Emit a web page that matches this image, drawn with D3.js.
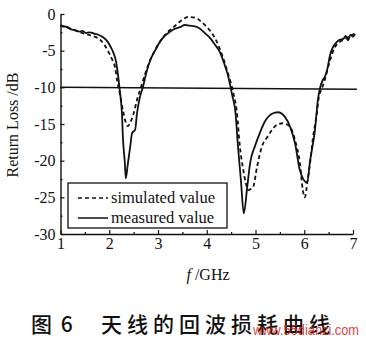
<!DOCTYPE html>
<html>
<head>
<meta charset="utf-8">
<script src="https://cdn.jsdelivr.net/npm/d3@7"></script>
<style>
  html, body { margin: 0; padding: 0; background: #ffffff; }
  svg { display: block; }
  .serif { font-family: "Liberation Serif", "Times New Roman", serif; }
</style>
</head>
<body>
<svg id="chart" width="366" height="342"></svg>
<script>
// Frequency (GHz) and return loss (dB) of the antenna, simulated and measured
const simFreq = [1.00, 1.20, 1.40, 1.61, 1.81, 1.90, 1.97, 2.06, 2.12, 2.16, 2.22, 2.28, 2.33, 2.38, 2.43, 2.49, 2.57, 2.63, 2.73, 2.84,
                 3.00, 3.14, 3.35, 3.50, 3.62, 3.76, 3.86, 3.96, 4.07, 4.17, 4.31, 4.44, 4.54, 4.62, 4.68, 4.74, 4.80, 4.85, 4.95,
                 5.03, 5.13, 5.24, 5.34, 5.44, 5.56, 5.71, 5.81, 5.91, 5.97, 6.01, 6.07, 6.12, 6.18, 6.26, 6.30, 6.36, 6.42, 6.53,
                 6.63, 6.73, 6.84, 6.94, 7.03];
const simDB   = [-1.6, -2.0, -2.5, -2.9, -3.5, -4.2, -5.0, -6.2, -7.3, -9.0, -11.0, -13.1, -14.6, -15.3, -14.8, -13.8, -11.7, -10.4, -8.3, -6.3,
                 -4.2, -2.9, -1.6, -0.8, -0.4, -0.5, -0.9, -1.5, -2.3, -3.3, -5.5, -8.2, -10.6, -13.5, -18.1, -20.9, -23.0, -24.0, -23.6,
                 -20.9, -18.1, -16.8, -15.8, -15.1, -14.9, -15.4, -17.2, -20.3, -24.0, -25.0, -22.6, -20.3, -16.8, -13.5, -11.3, -10.2, -9.0, -6.3,
                 -4.5, -3.8, -3.4, -3.0, -2.7];

const measFreq = [1.00, 1.08, 1.15, 1.22, 1.30, 1.38, 1.45, 1.52, 1.60, 1.70, 1.80, 1.90, 1.97, 2.03, 2.08, 2.14, 2.18, 2.21, 2.24, 2.26,
                  2.28, 2.32, 2.34, 2.38, 2.43, 2.47, 2.53, 2.57, 2.63, 2.69, 2.76, 2.84, 2.94, 3.04, 3.15, 3.25, 3.35, 3.45, 3.55,
                  3.65, 3.76, 3.86, 3.96, 4.07, 4.17, 4.27, 4.37, 4.44, 4.48, 4.52, 4.59, 4.64, 4.70, 4.76, 4.83, 4.89, 4.99, 5.09,
                  5.19, 5.34, 5.46, 5.60, 5.71, 5.81, 5.91, 6.06, 6.12, 6.22, 6.28, 6.32, 6.38, 6.42, 6.47, 6.53, 6.59, 6.67, 6.73,
                  6.80, 6.85, 6.90, 6.95, 7.00, 7.04];
const measDB   = [-1.5, -1.7, -1.8, -2.1, -2.2, -2.4, -2.3, -2.6, -2.5, -2.7, -2.9, -3.3, -3.8, -4.5, -5.2, -6.5, -8.3, -10.1, -11.8, -13.5,
                  -16.8, -20.3, -22.4, -20.5, -18.1, -16.2, -15.8, -13.5, -11.3, -10.0, -8.0, -6.3, -5.0, -3.8, -2.9, -2.4, -2.0, -1.8, -1.5,
                  -1.6, -1.7, -2.0, -2.6, -3.3, -4.2, -5.2, -7.0, -8.5, -9.7, -11.0, -13.5, -18.0, -22.6, -27.2, -23.6, -20.3, -18.0, -16.2,
                  -14.7, -13.6, -13.4, -14.0, -15.4, -17.6, -21.3, -23.0, -20.0, -15.8, -11.7, -10.2, -9.0, -8.6, -7.6, -5.6, -4.5, -3.8, -3.5,
                  -3.4, -3.0, -3.6, -2.8, -3.1, -2.7];

// -10 dB reference line, start and end
const refFreq = [1.0, 7.08];
const refDB   = [-10.0, -10.25];

const xTicks = [1, 2, 3, 4, 5, 6, 7];
const yTicks = [0, -5, -10, -15, -20, -25, -30];
const legendLabels = ["simulated value", "measured value"];
const yTitle = "Return Loss /dB";
const xTitleItalic = "f";
const xTitleRest = " /GHz";
const captionNum = "图 6";
const captionText = "天线的回波损耗曲线";
const siteMark = "www.55dianzi.com";

const svg = d3.select("#chart");
const x = d3.scaleLinear().domain([1, 7]).range([60.5, 353]);
const y = d3.scaleLinear().domain([-30, 0]).range([234, 14]);

const serif = '"Liberation Serif", "Times New Roman", serif';

// Axes: ticks point inward, minor ticks at half steps
const xMinor = d3.range(1.5, 7, 1);
const yMinor = d3.range(-27.5, 0, 5);

const gx = svg.append("g").attr("transform", `translate(0,${y(-30)})`)
  .call(d3.axisBottom(x).tickValues(xTicks).tickFormat(d3.format("d"))
    .tickSizeInner(-4).tickSizeOuter(0).tickPadding(4));
svg.append("g").attr("transform", `translate(0,${y(-30)})`)
  .call(d3.axisBottom(x).tickValues(xMinor).tickFormat("").tickSizeInner(-2).tickSizeOuter(0))
  .select(".domain").remove();

const gy = svg.append("g").attr("transform", `translate(${x(1)},0)`)
  .call(d3.axisLeft(y).tickValues(yTicks).tickFormat(d3.format("d"))
    .tickSizeInner(-4).tickSizeOuter(0).tickPadding(5));
svg.append("g").attr("transform", `translate(${x(1)},0)`)
  .call(d3.axisLeft(y).tickValues(yMinor).tickFormat("").tickSizeInner(-2).tickSizeOuter(0))
  .select(".domain").remove();

svg.selectAll(".domain").attr("stroke", "#111").attr("stroke-width", 1.4);
svg.selectAll(".tick line").attr("stroke", "#111").attr("stroke-width", 1.2);
svg.selectAll(".tick text").attr("font-family", serif).attr("font-size", 16).attr("fill", "#111");
gy.selectAll(".tick text").text(d => d === 0 ? "0" : "-" + Math.abs(d));

// Curves
const line = d3.line().x(d => x(d[0])).y(d => y(d[1])).curve(d3.curveMonotoneX);
const simPts = simFreq.map((f, i) => [f, simDB[i]]);
const measPts = measFreq.map((f, i) => [f, measDB[i]]);
const refPts = refFreq.map((f, i) => [f, refDB[i]]);

svg.append("path").datum(refPts)
  .attr("d", d3.line().x(d => x(d[0])).y(d => y(d[1])))
  .attr("fill", "none").attr("stroke", "#111").attr("stroke-width", 1.5);

svg.append("path").datum(simPts).attr("d", line)
  .attr("fill", "none").attr("stroke", "#111").attr("stroke-width", 1.8)
  .attr("stroke-dasharray", "4,3");

svg.append("path").datum(measPts).attr("d", line)
  .attr("fill", "none").attr("stroke", "#111").attr("stroke-width", 1.8)
  .attr("stroke-linejoin", "round");

// Legend
const lg = svg.append("g");
lg.append("rect").attr("x", 68).attr("y", 183).attr("width", 159).attr("height", 45)
  .attr("fill", "#fff").attr("stroke", "#111").attr("stroke-width", 1.3);
const legendRows = [{ dash: "4,3", yy: 198 }, { dash: null, yy: 218 }];
legendRows.forEach((r, i) => {
  lg.append("line").attr("x1", 78).attr("x2", 108).attr("y1", r.yy).attr("y2", r.yy)
    .attr("stroke", "#111").attr("stroke-width", 1.5)
    .attr("stroke-dasharray", r.dash);
  lg.append("text").attr("x", 111).attr("y", r.yy).attr("dy", "0.33em")
    .attr("font-family", serif).attr("font-size", 16.5).attr("fill", "#111")
    .text(legendLabels[i]);
});

// Axis titles
svg.append("text")
  .attr("transform", `translate(18,${125}) rotate(-90)`)
  .attr("text-anchor", "middle")
  .attr("font-family", serif).attr("font-size", 16).attr("fill", "#111")
  .text(yTitle);

const xt = svg.append("text").attr("x", 208).attr("y", 280).attr("text-anchor", "middle")
  .attr("font-family", serif).attr("font-size", 16).attr("fill", "#111");
xt.append("tspan").attr("font-style", "italic").text(xTitleItalic);
xt.append("tspan").text(xTitleRest);

// Caption
const cjk = '"Noto Sans CJK SC", sans-serif';
svg.append("text").attr("x", 31).attr("y", 332)
  .attr("font-family", cjk).attr("font-size", 21).attr("font-weight", 500).attr("fill", "#111")
  .attr("letter-spacing", 2)
  .text(captionNum);
svg.append("text").attr("x", 101).attr("y", 332)
  .attr("font-family", cjk).attr("font-size", 21).attr("font-weight", 500).attr("fill", "#111")
  .attr("letter-spacing", 5)
  .text(captionText);

// Site mark
svg.append("text").attr("x", 253).attr("y", 335)
  .attr("font-family", '"Liberation Sans", Arial, sans-serif').attr("font-size", 15)
  .attr("fill", "#d42a1e").attr("fill-opacity", 0.9)
  .attr("textLength", 106).attr("lengthAdjust", "spacingAndGlyphs")
  .text(siteMark);
</script>
</body>
</html>
